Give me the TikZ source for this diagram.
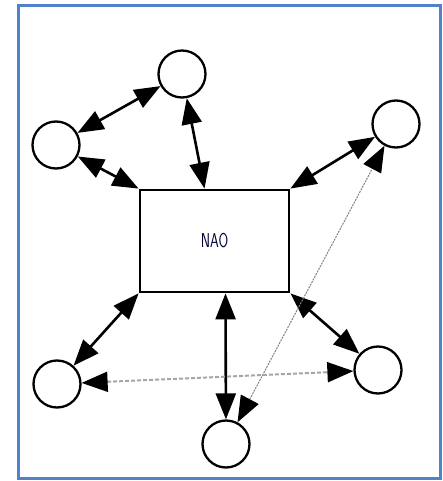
\documentclass[tikz,border=0pt]{standalone}
\usetikzlibrary{arrows.meta}
\begin{document}
\begin{tikzpicture}[x=1pt,y=-1pt,
  peer/.style={circle,draw,line width=2.3pt,minimum size=47pt,inner sep=0pt},
  core/.style={rectangle,draw,line width=2.8pt,minimum width=149pt,minimum height=102pt},
  link/.style={line width=2.6pt,{Triangle[length=26pt,width=20pt]}-{Triangle[length=26pt,width=20pt]}},
  thinlink/.style={line width=1pt,gray,dash pattern=on 2pt off 1pt,{Triangle[length=26pt,width=20pt,color=black]}-{Triangle[length=26pt,width=20pt,color=black]}},
  dashlink/.style={line width=2pt,gray!70,dash pattern=on 4pt off 2pt,{Triangle[length=26pt,width=20pt,color=black]}-{Triangle[length=26pt,width=20pt,color=black]}}]
\useasboundingbox (0,0) rectangle (442,481);
\draw[line width=3pt,draw={rgb,255:red,80;green,130;blue,200}] (18,6) rectangle (440,478);
\node[core] (nao) at (214.5,241) {};
\node[xscale=0.7,font=\sffamily\fontsize{20}{20}\selectfont,text=black!80!blue] (naolabel) at (nao.center) {NAO};
\node[peer] (top) at (182,74) {};
\node[peer] (lt) at (56,145) {};
\node[peer] (rt) at (396,124) {};
\node[peer] (lb) at (57,384) {};
\node[peer] (bm) at (226,444) {};
\node[peer] (rb) at (378,370) {};
\coordinate (ntop) at ([xshift=-10pt]nao.north);
\coordinate (nbot) at ([xshift=11pt]nao.south);
\draw[link] (lt) -- (top);
\draw[link] (top) -- (ntop);
\draw[link] (lt) -- (nao.north west);
\draw[link] (nao.north east) -- (rt);
\draw[link] (nao.south west) -- (lb);
\draw[link] (nbot) -- (bm);
\draw[link] (nao.south east) -- (rb);
\draw[thinlink] (bm) -- (rt);
\draw[dashlink] (lb) -- (rb);
\end{tikzpicture}
\end{document}
